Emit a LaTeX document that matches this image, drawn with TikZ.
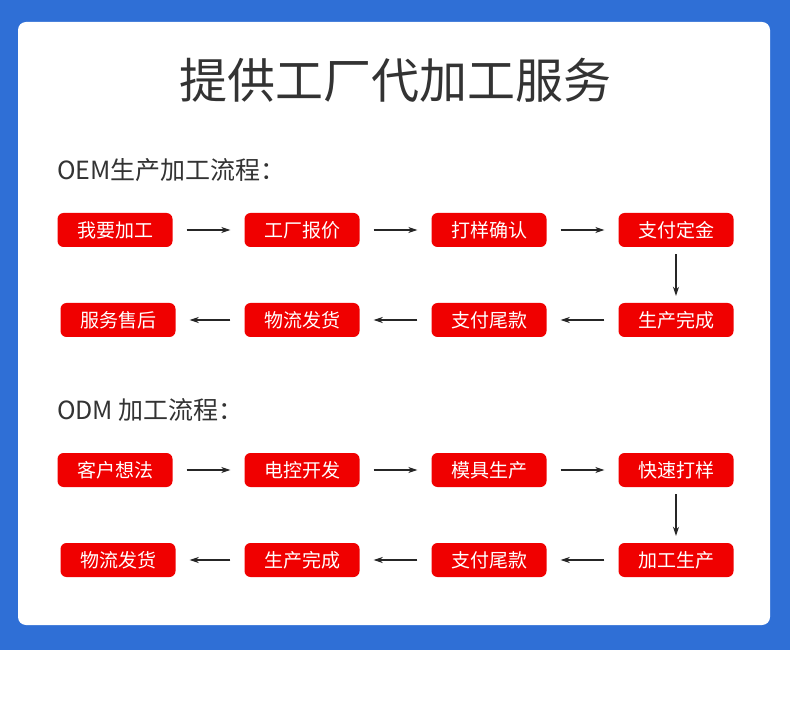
\documentclass[tikz,border=0pt]{standalone}
\usepackage{fontspec}
\newfontfamily\cjk{Noto Sans CJK SC}
\usetikzlibrary{arrows.meta}
\definecolor{bg}{HTML}{2F6FD6}
\definecolor{bx}{HTML}{F00000}
\definecolor{tx}{HTML}{333333}
\tikzset{
 stepbox/.style={fill=bx,rounded corners=6pt,minimum width=115pt,minimum height=34pt,text=white,font=\cjk\fontsize{19}{19}\selectfont,inner sep=0pt},
 conn/.style={-{Stealth[length=9pt,width=6pt]},line width=1.2pt,black!85,shorten >=14pt,shorten <=14pt},
 vconn/.style={-{Stealth[length=9pt,width=6pt]},line width=1.2pt,black!85,shorten >=7pt,shorten <=7pt}
}
\begin{document}
\begin{tikzpicture}[x=1pt,y=-1pt]
\useasboundingbox (0,0) rectangle (790,703);
\fill[bg] (0,0) rectangle (790,650);
\fill[white,rounded corners=8pt] (18,22) rectangle (770,625);
\node[text=tx,font=\cjk\fontsize{48}{48}\selectfont] (title) at (395,80) {提供工厂代加工服务};
\node[text=tx,anchor=west,font=\cjk\fontsize{25}{25}\selectfont,inner sep=0pt] (l1) at (57,170) {OEM生产加工流程：};
\node[text=tx,anchor=west,font=\cjk\fontsize{25}{25}\selectfont,inner sep=0pt] (l2) at (57,410) {ODM 加工流程：};
\node[stepbox] (a1) at (115,230) {我要加工};
\node[stepbox] (a2) at (302,230) {工厂报价};
\node[stepbox] (a3) at (489,230) {打样确认};
\node[stepbox] (a4) at (676,230) {支付定金};
\node[stepbox] (b4) at (676,320) {生产完成};
\node[stepbox] (b3) at (489,320) {支付尾款};
\node[stepbox] (b2) at (302,320) {物流发货};
\node[stepbox] (b1) at (118,320) {服务售后};
\draw[conn] (a1) -- (a2); \draw[conn] (a2) -- (a3); \draw[conn] (a3) -- (a4);
\draw[vconn] (a4) -- (b4);
\draw[conn] (b4) -- (b3); \draw[conn] (b3) -- (b2); \draw[conn] (b2) -- (b1);
\node[stepbox] (c1) at (115,470) {客户想法};
\node[stepbox] (c2) at (302,470) {电控开发};
\node[stepbox] (c3) at (489,470) {模具生产};
\node[stepbox] (c4) at (676,470) {快速打样};
\node[stepbox] (d4) at (676,560) {加工生产};
\node[stepbox] (d3) at (489,560) {支付尾款};
\node[stepbox] (d2) at (302,560) {生产完成};
\node[stepbox] (d1) at (118,560) {物流发货};
\draw[conn] (c1) -- (c2); \draw[conn] (c2) -- (c3); \draw[conn] (c3) -- (c4);
\draw[vconn] (c4) -- (d4);
\draw[conn] (d4) -- (d3); \draw[conn] (d3) -- (d2); \draw[conn] (d2) -- (d1);
\end{tikzpicture}
\end{document}
